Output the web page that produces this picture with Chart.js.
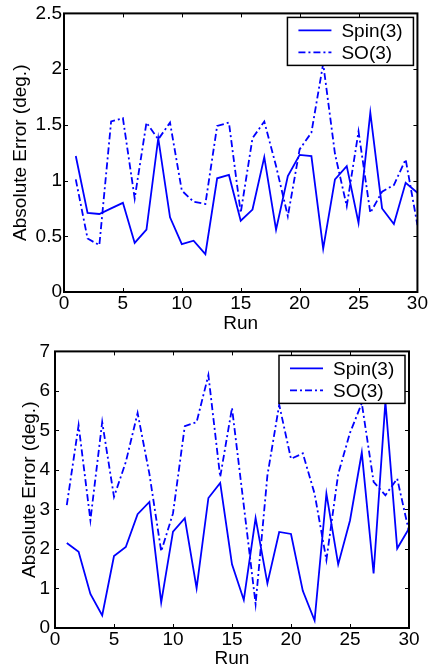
<!DOCTYPE html>
<html>
<head>
<meta charset="utf-8">
<script src="https://cdn.jsdelivr.net/npm/chart.js@4.4.1/dist/chart.umd.min.js"></script>
<style>
html, body { margin: 0; padding: 0; background: #fff; }
canvas { display: block; }
</style>
</head>
<body>
<canvas id="top-chart" width="428" height="335"></canvas>
<canvas id="bottom-chart" width="428" height="335"></canvas>
<script>
const runs = [1,2,3,4,5,6,7,8,9,10,11,12,13,14,15,16,17,18,19,20,21,22,23,24,25,26,27,28,29,30];
const seriesLabels = ['Spin(3)', 'SO(3)'];

// top plot
const topSpin = [1.22,0.71,0.70,0.75,0.80,0.44,0.56,1.38,0.67,0.43,0.46,0.34,1.02,1.05,0.64,0.74,1.21,0.56,1.04,1.23,1.22,0.39,1.01,1.13,0.62,1.61,0.75,0.61,0.98,0.89];
const topSO = [1.01,0.48,0.42,1.53,1.56,0.84,1.52,1.37,1.52,0.91,0.81,0.79,1.49,1.52,0.71,1.38,1.53,1.13,0.68,1.28,1.43,2.05,1.24,0.77,1.44,0.71,0.90,0.96,1.19,0.60];

// bottom plot
const bottomSpin = [2.15,1.93,0.86,0.32,1.82,2.05,2.88,3.19,0.65,2.44,2.78,1.01,3.29,3.67,1.61,0.71,2.78,1.13,2.43,2.38,0.94,0.19,3.40,1.61,2.72,4.44,1.38,5.73,2.01,2.52];
const bottomSO = [3.11,5.13,2.73,5.21,3.32,4.20,5.44,3.90,1.94,2.90,5.11,5.21,6.40,3.82,5.57,3.10,0.61,3.86,5.65,4.28,4.42,3.40,1.72,3.90,4.94,5.69,3.70,3.36,3.78,2.44];

const FONT = '"Liberation Sans", Arial, Helvetica, sans-serif';
const FSIZE = 19;
const BLUE = '#0000ff';
const DASHDOT = [7, 3, 2, 3];

// matlab style box: frame, inward ticks on all sides, legend in the corner
const matlabBox = {
    id: 'matlabBox',
    afterDatasetsDraw(chart) {
        const { ctx, chartArea: a } = chart;
        const xs = chart.scales.x;
        const ys = chart.scales.y;
        const len = 4;
        ctx.save();
        ctx.strokeStyle = '#000';
        ctx.lineWidth = 1;
        ctx.beginPath();
        xs.ticks.forEach(t => {
            const px = Math.round(xs.getPixelForValue(t.value)) + 0.5;
            ctx.moveTo(px, a.bottom); ctx.lineTo(px, a.bottom - len);
            ctx.moveTo(px, a.top); ctx.lineTo(px, a.top + len);
        });
        ys.ticks.forEach(t => {
            const py = Math.round(ys.getPixelForValue(t.value)) + 0.5;
            ctx.moveTo(a.left, py); ctx.lineTo(a.left + len, py);
            ctx.moveTo(a.right, py); ctx.lineTo(a.right - len, py);
        });
        ctx.stroke();
        ctx.lineWidth = 2;
        ctx.strokeRect(a.left, a.top, a.right - a.left, a.bottom - a.top);

        // legend
        const w = 126, h = 48;
        const bx = a.right - 4 - w, by = a.top + 4;
        ctx.fillStyle = '#fff';
        ctx.fillRect(bx, by, w, h);
        ctx.lineWidth = 1.5;
        ctx.strokeStyle = '#000';
        ctx.strokeRect(bx, by, w, h);
        ctx.font = FSIZE + 'px ' + FONT;
        ctx.textBaseline = 'middle';
        chart.data.datasets.forEach((ds, i) => {
            const ry = by + 13 + i * 22;
            ctx.strokeStyle = ds.borderColor;
            ctx.lineWidth = ds.borderWidth;
            ctx.setLineDash(ds.borderDash || []);
            ctx.beginPath();
            ctx.moveTo(bx + 11, ry);
            ctx.lineTo(bx + 44, ry);
            ctx.stroke();
            ctx.setLineDash([]);
            ctx.fillStyle = '#000';
            ctx.fillText(ds.label, bx + 54, ry + 1);
        });
        ctx.restore();
    }
};

function makeChart(id, spin, so, yMax, opts) {
    return new Chart(document.getElementById(id), {
        type: 'line',
        data: {
            datasets: [
                {
                    label: seriesLabels[0],
                    data: runs.map((r, i) => ({ x: r, y: spin[i] })),
                    borderColor: BLUE,
                    borderWidth: 1.8,
                    pointRadius: 0,
                    tension: 0,
                    fill: false
                },
                {
                    label: seriesLabels[1],
                    data: runs.map((r, i) => ({ x: r, y: so[i] })),
                    borderColor: BLUE,
                    borderWidth: 1.8,
                    borderDash: DASHDOT,
                    pointRadius: 0,
                    tension: 0,
                    fill: false
                }
            ]
        },
        options: {
            responsive: false,
            animation: false,
            devicePixelRatio: 1,
            layout: { padding: { top: opts.top, right: opts.right, left: 0, bottom: 0 } },
            scales: {
                x: {
                    type: 'linear',
                    min: 0,
                    max: 30,
                    grid: { display: false, drawTicks: false },
                    border: { display: false },
                    ticks: { stepSize: 5, padding: 0, color: '#000', font: { family: FONT, size: FSIZE } },
                    title: { display: true, text: 'Run', color: '#000', padding: { top: 0, bottom: 0 }, font: { family: FONT, size: FSIZE } },
                    afterFit: s => { s.height = opts.xHeight; }
                },
                y: {
                    min: 0,
                    max: yMax,
                    grid: { display: false, drawTicks: false },
                    border: { display: false },
                    ticks: {
                        stepSize: yMax > 3 ? 1 : 0.5,
                        padding: opts.yTickPad,
                        color: '#000',
                        font: { family: FONT, size: FSIZE },
                        callback: v => String(v)
                    },
                    title: { display: true, text: 'Absolute Error (deg.)', color: '#000', padding: { top: opts.yTitlePad, bottom: 0 }, font: { family: FONT, size: FSIZE } },
                    afterFit: s => { s.width = opts.yWidth; }
                }
            },
            plugins: {
                legend: { display: false },
                tooltip: { enabled: false }
            }
        },
        plugins: [matlabBox]
    });
}

const topChart = makeChart('top-chart', topSpin, topSO, 2.5,
    { top: 13, right: 9, xHeight: 43, yWidth: 64, yTickPad: 2, yTitlePad: 9 });
const bottomChart = makeChart('bottom-chart', bottomSpin, bottomSO, 7,
    { top: 12, right: 19, xHeight: 42, yWidth: 55, yTickPad: 5, yTitlePad: 18 });
</script>
</body>
</html>
